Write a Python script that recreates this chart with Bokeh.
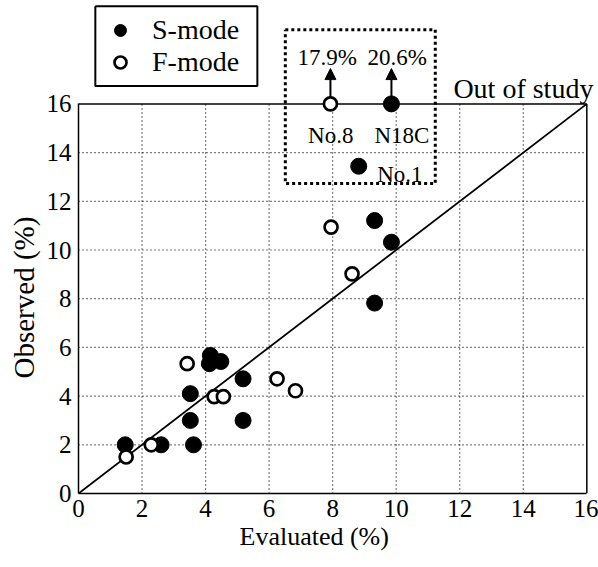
from bokeh.plotting import figure
from bokeh.models import (Range1d, FixedTicker, Label, Legend, LegendItem, Arrow,
                          NormalHead, ColumnDataSource, Title)
from bokeh.embed import file_html
from bokeh.resources import INLINE

# ---------------- data ----------------
s_eval = [1.47, 2.6, 3.62, 3.52, 3.52, 4.15, 4.12, 4.48, 5.18, 5.18, 9.32, 9.85, 9.32, 8.82, 9.85]
s_obs = [2.0, 2.0, 2.0, 3.0, 4.1, 5.67, 5.33, 5.42, 4.71, 3.0, 11.21, 10.32, 7.82, 13.44, 20.6]
f_eval = [1.5, 2.29, 3.42, 4.27, 4.56, 6.25, 6.83, 8.61, 7.95, 7.93]
f_obs = [1.5, 2.0, 5.33, 3.98, 3.98, 4.71, 4.22, 9.02, 10.94, 17.9]

cap = 16.0
ticks = [0, 2, 4, 6, 8, 10, 12, 14, 16]

# out-of-study cases: (name, evaluated, observed)
oos_names = ["No.8", "N18C", "No.1"]
oos_eval = [7.93, 9.85, 8.82]
oos_obs = [17.9, 20.6, 13.44]

FONT = "Liberation Serif"

# ---------------- figure ----------------
XMAX = 520 / 31.77
YMAX = 493 / 24.35
p = figure(width=598, height=567, x_range=Range1d(0, XMAX), y_range=Range1d(0, YMAX),
           output_backend="svg", toolbar_location=None,
           min_border_left=78, min_border_right=0, min_border_top=0, min_border_bottom=74)
p.outline_line_color = None
p.xgrid.visible = False
p.ygrid.visible = False
p.background_fill_color = "white"
p.border_fill_color = "white"

for ax in (p.xaxis[0], p.yaxis[0]):
    ax.ticker = FixedTicker(ticks=ticks)
    ax.bounds = (0, 16)
    ax.axis_line_color = "black"
    ax.axis_line_width = 1.5
    ax.major_tick_in = 0
    ax.major_tick_out = 0
    ax.minor_tick_in = 0
    ax.minor_tick_out = 0
    ax.major_label_text_font = FONT
    ax.major_label_text_font_size = "25px"
    ax.major_label_text_color = "black"
p.xaxis[0].major_label_standoff = 6
p.yaxis[0].major_label_standoff = 7

# axis titles
p.add_layout(Title(text="Evaluated (%)", align="left", offset=161, standoff=0,
                   text_font=FONT, text_font_size="26px", text_font_style="normal",
                   text_color="black"), "below")
p.add_layout(Title(text="Observed (%)", align="left", offset=115, standoff=8,
                   text_font=FONT, text_font_size="29px", text_font_style="normal",
                   text_color="black"), "left")

# grid (dotted), limited to the 0..16 box
inner = [t for t in ticks if 0 < t < 16]
p.segment(x0=inner, y0=[0] * len(inner), x1=inner, y1=[16] * len(inner),
          line_color="black", line_width=1.2, line_dash="1 3")
p.segment(x0=[0] * len(inner), y0=inner, x1=[16] * len(inner), y1=inner,
          line_color="black", line_width=1.2, line_dash="1 3")

# top and right frame
p.segment(x0=[0, 16], y0=[16, 0], x1=[16, 16], y1=[16, 16], line_color="black", line_width=1.5)

# 1:1 line
p.line([0, 16], [0, 16], line_color="black", line_width=1.8)

# arrows for values beyond the axis
for xe, yo in zip(oos_eval, oos_obs):
    if yo > cap:
        p.add_layout(Arrow(end=NormalHead(size=11, fill_color="black", line_color="black", line_width=1),
                           x_start=xe, y_start=cap, x_end=xe, y_end=17.45,
                           line_color="black", line_width=2, level="underlay"))

# dotted box around out-of-study points
p.line([6.51, 11.23, 11.23, 6.51, 6.51], [19.05, 19.05, 12.73, 12.73, 19.05],
       line_color="black", line_width=3, line_dash="3 3")

# legend frame
p.line([0.53, 5.63, 5.63, 0.53, 0.53], [20.01, 20.01, 16.73, 16.73, 20.01],
       line_color="black", line_width=2)

src_s = ColumnDataSource(dict(x=s_eval, y=[min(v, cap) for v in s_obs]))
src_f = ColumnDataSource(dict(x=f_eval, y=[min(v, cap) for v in f_obs]))
r_s = p.scatter("x", "y", source=src_s, size=16, marker="circle",
                fill_color="black", line_color="black", line_width=1)
r_f = p.scatter("x", "y", source=src_f, size=13, marker="circle",
                fill_color="white", line_color="black", line_width=2.7)

# texts
def txt(x, y, t, size, align="center", baseline="alphabetic"):
    p.add_layout(Label(x=x, y=y, text=t, text_font=FONT, text_font_size=size,
                       text_align=align, text_baseline=baseline, text_color="black"))

vals = {n: v for n, v in zip(oos_names, oos_obs)}
txt(7.83, 17.89, "%.1f%%" % vals["No.8"], "23px")
txt(10.03, 17.89, "%.1f%%" % vals["N18C"], "23px")
txt(7.94, 14.70, "No.8", "23px")
txt(10.18, 14.70, "N18C", "23px")
txt(9.40, 13.10, "No.1", "23px", align="left")
txt(11.8, 16.62, "Out of study", "28px", align="left")

legend = Legend(items=[LegendItem(label="S-mode", renderers=[r_s]),
                       LegendItem(label="F-mode", renderers=[r_f])],
                location=(27, 415), orientation="vertical",
                label_text_font=FONT, label_text_font_size="28px", label_text_color="black",
                glyph_width=30, glyph_height=30, label_height=30,
                label_standoff=17, padding=6, spacing=-3, margin=0,
                border_line_color=None, background_fill_alpha=0)
p.add_layout(legend)

open("out.html", "w").write(file_html(p, INLINE))
